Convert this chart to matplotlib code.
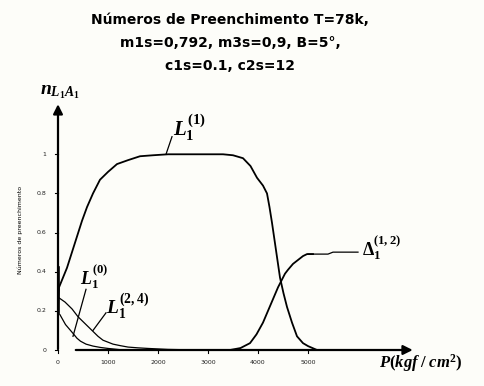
import matplotlib
matplotlib.use("Agg")
import matplotlib.pyplot as plt

plt.rcParams["mathtext.fontset"] = "custom"
plt.rcParams["mathtext.it"] = "Liberation Serif:italic:bold"
plt.rcParams["mathtext.rm"] = "Liberation Serif:bold"
plt.rcParams["mathtext.bf"] = "Liberation Serif:bold"

# Pressure axis (kgf/cm^2) and occupation numbers of each configuration
p_l1 = [0, 20, 100, 180, 280, 380, 480, 580, 700, 840, 1000, 1180, 1400, 1640,
        1900, 2200, 2600, 3000, 3300, 3500, 3700, 3850, 3980, 4100, 4180,
        4230, 4280, 4360, 4440, 4510, 4580, 4680, 4780, 4900, 5000, 5180, 5400]
l1 = [0.22, 0.32, 0.37, 0.42, 0.50, 0.58, 0.66, 0.73, 0.80, 0.87, 0.91, 0.95,
      0.97, 0.99, 0.995, 1.0, 1.0, 1.0, 1.0, 0.995, 0.98, 0.94, 0.88, 0.84,
      0.80, 0.73, 0.65, 0.51, 0.37, 0.29, 0.22, 0.14, 0.07, 0.035, 0.02, 0.0,
      0.0]

p_l0 = [0, 140, 280, 400, 540, 680, 800, 900, 1000, 1100, 1250, 1400, 1600,
        1800, 2200, 2800]
l0 = [0.27, 0.245, 0.21, 0.17, 0.135, 0.10, 0.07, 0.05, 0.04, 0.03, 0.022,
      0.015, 0.011, 0.008, 0.003, 0.0]

p_l24 = [40, 150, 300, 380, 450, 560, 700, 850, 1000, 1300]
l24 = [0.18, 0.13, 0.085, 0.06, 0.045, 0.03, 0.02, 0.013, 0.008, 0.0]

p_d12 = [3440, 3650, 3840, 3970, 4100, 4200, 4300, 4400, 4480, 4540, 4600,
         4700, 4800, 4900, 4980, 5100]
d12 = [0.0, 0.01, 0.035, 0.08, 0.14, 0.20, 0.26, 0.32, 0.36, 0.39, 0.41, 0.44,
       0.46, 0.48, 0.49, 0.49]

x_ticks = [0, 1000, 2000, 3000, 4000, 5000]
x_tick_labels = ["0", "1000", "2000", "3000", "4000", "5000"]
y_ticks = [0, 0.2, 0.4, 0.6, 0.8, 1.0]
y_tick_labels = ["0", "0.2", "0.4", "0.6", "0.8", "1"]

fig = plt.figure(figsize=(4.84, 3.86), dpi=100)
fig.patch.set_facecolor("#fdfdf9")
ax = fig.add_axes([58 / 484, 36 / 386, 400 / 484, 274 / 386])
ax.set_xlim(0, 8000)
ax.set_ylim(0, 1.4)
ax.axis("off")

lw = 1.3
ax.plot(p_l1, l1, color="black", lw=lw)
ax.plot(p_l0, l0, color="black", lw=0.9)
ax.plot(p_l24, l24, color="black", lw=0.9)
ax.plot(p_d12, d12, color="black", lw=lw)

# axes with arrows
ax.annotate("", xy=(0, 1.27), xytext=(0, -0.01),
            arrowprops=dict(arrowstyle="-|>", color="black", lw=1.6,
                            mutation_scale=14), annotation_clip=False)
ax.annotate("", xy=(7150, 0), xytext=(300, 0),
            arrowprops=dict(arrowstyle="-|>", color="black", lw=1.6,
                            mutation_scale=14), annotation_clip=False)
ax.plot([0, 0], [0.19, 0.42], color="black", lw=2.6)

# ticks
for y, lab in zip(y_ticks, y_tick_labels):
    ax.plot([-70, 0], [y, y], color="black", lw=0.8, clip_on=False)
    ax.text(-230, y, lab, ha="right", va="center", fontsize=4.5, color="#222")
for x, lab in zip(x_ticks, x_tick_labels):
    ax.plot([x, x], [0, -0.015], color="black", lw=0.8, clip_on=False)
    ax.text(x, -0.065, lab, ha="center", va="center", fontsize=4.5, color="#222")

# curve labels and leader lines
lc = dict(color="black", lw=0.9)
ax.plot([2280, 2160], [1.09, 1.0], **lc)
ax.text(2300, 1.06, r"$L_1^{(1)}$", fontsize=15, ha="left", va="bottom")

ax.plot([560, 300], [0.31, 0.07], **lc)
ax.text(440, 0.30, r"$L_1^{(0)}$", fontsize=13, ha="left", va="bottom")

ax.plot([960, 700], [0.19, 0.10], **lc)
ax.text(960, 0.15, r"$L_1^{(2,4)}$", fontsize=14, ha="left", va="bottom")

ax.plot([5000, 5400, 5500, 6000], [0.49, 0.49, 0.50, 0.50], **lc)
ax.text(6080, 0.45, r"$\Delta_1^{(1,2)}$", fontsize=13, ha="left", va="bottom")

# axis labels
ax.text(-360, 1.32, r"$n_{L_1A_1}$", fontsize=14, ha="left", va="center")
ax.text(6420, -0.065, r"$P(kgf\;/\;cm^2)$", fontsize=12, ha="left", va="center")
fig.text(20 / 484, 1 - 230 / 386, "Números de preenchimento", rotation=90,
         fontsize=4.5, ha="center", va="center")

title = ["Números de Preenchimento T=78k,",
         "m1s=0,792, m3s=0,9, B=5°,",
         "c1s=0.1, c2s=12"]
for i, line in enumerate(title):
    fig.text(230 / 484, 1 - (20 + 23 * i) / 386, line, fontsize=10,
             fontweight="bold", ha="center", va="center")

fig.savefig("out.png", dpi=100, facecolor=fig.get_facecolor())
